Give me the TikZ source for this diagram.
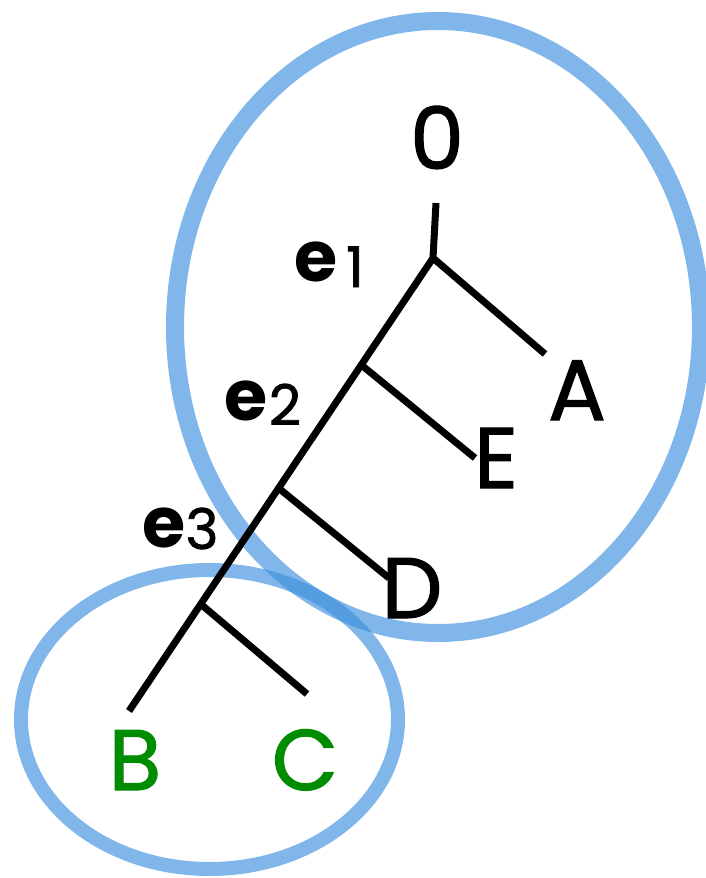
\documentclass[tikz,border=0pt]{standalone}
\usepackage{fontspec}
\setmainfont{Poppins}
\newfontfamily\medfont[FakeBold=1.3]{Poppins}
\usetikzlibrary{calc}
\definecolor{ringblue}{RGB}{60,143,221}
\definecolor{leafgreen}{RGB}{0,140,0}
\tikzset{
  ring/.style={draw=ringblue, draw opacity=0.65},
  branch/.style={draw=black, line width=7pt},
  letterlab/.style={inner sep=0pt, anchor=base, font=\fontsize{86}{86}\medfont},
  elab/.style={inner sep=0pt, anchor=base, font=\fontsize{70}{70}\selectfont\bfseries},
  esub/.style={inner sep=0pt, anchor=base, font=\fontsize{56}{56}\medfont},
}
\begin{document}
\begin{tikzpicture}[x=1pt,y=-1pt]
\useasboundingbox (0,0) rectangle (706,878);
% rings
\draw[ring, line width=18pt] (438,327) ellipse [x radius=263, y radius=306];
\draw[ring, line width=14pt] (209.5,719.5) ellipse [x radius=188.5, y radius=149.5];
% tree points
\coordinate (top) at (436,203);
\coordinate (r) at (433,258);
\coordinate (bend) at (129,711);
\coordinate (aend) at (545,354);
\coordinate (eend) at (475,458);
\coordinate (dend) at (389,578);
\coordinate (cend) at (307,694);
\coordinate (je) at ($(r)!0.236!(bend)$);
\coordinate (jd) at ($(r)!0.508!(bend)$);
\coordinate (jc) at ($(r)!0.764!(bend)$);
% tree
\draw[branch] (top) -- (r);
\draw[branch] (r) -- (bend);
\draw[branch] (r) -- (aend);
\draw[branch] (je) -- (eend);
\draw[branch] (jd) -- (dend);
\draw[branch] (jc) -- (cend);
% labels
\node[letterlab] (n0) at (437,169) {0};
\node[letterlab] (nA) at (577,420) {A};
\node[letterlab] (nE) at (496,488) {E};
\node[letterlab] (nD) at (412,618) {D};
\node[letterlab, text=leafgreen] (nB) at (135,790) {B};
\node[letterlab, text=leafgreen] (nC) at (305,790) {C};
\node[elab] (e1) at (316,281) {e};
\node[esub] (e1s) at (355,287) {1};
\node[elab] (e2) at (246,420) {e};
\node[esub] (e2s) at (285,425) {2};
\node[elab] (e3) at (164,547) {e};
\node[esub] (e3s) at (202,549) {3};
\end{tikzpicture}
\end{document}
